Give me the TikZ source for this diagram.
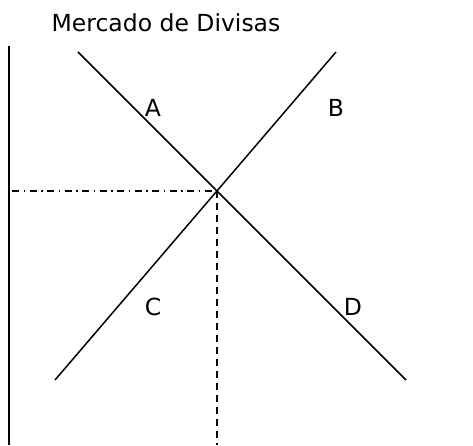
\documentclass[tikz,border=0pt]{standalone}
\usepackage{fontspec}
\setmainfont{DejaVu Sans}
\usepackage{tikz}
\usetikzlibrary{calc}

\begin{document}
\begin{tikzpicture}[
    x=1pt, y=1pt,
    curve/.style={line width=1.5pt, black},
    axisline/.style={line width=2.3pt, black},
    guide/.style={line width=1.5pt, dash pattern=on 7pt off 4.5pt on 1.5pt off 4.5pt},
    drop/.style={line width=1.5pt, dash pattern=on 7pt off 5pt},
    tag/.style={font=\fontsize{23.5}{28}\selectfont, inner sep=0pt, anchor=base},
]
\useasboundingbox (0,0) rectangle (473,445);

% ends of the two lines
\coordinate (aTop) at (78,393);
\coordinate (dEnd) at (406,65);
\coordinate (cEnd) at (55,65);
\coordinate (bTop) at (336,393);
\coordinate (axTop) at (9,399);
\coordinate (axBot) at (9,0);
\coordinate (eq) at (intersection of aTop--dEnd and cEnd--bTop);
\coordinate (guideL) at (12,0 |- eq);
\coordinate (dropB) at (eq |- axBot);

\draw[axisline] (axTop) -- (axBot);
\draw[curve] (aTop) -- (dEnd);
\draw[curve] (cEnd) -- (bTop);
\draw[guide] (guideL) -- (eq);
\draw[drop] (eq) -- (dropB);

\node[tag] (title) at (166,413) {Mercado de Divisas};
\node[tag] (labA) at (153,328) {A};
\node[tag] (labB) at (336,328) {B};
\node[tag] (labC) at (153,130) {C};
\node[tag] (labD) at (353,130) {D};
\end{tikzpicture}
\end{document}
